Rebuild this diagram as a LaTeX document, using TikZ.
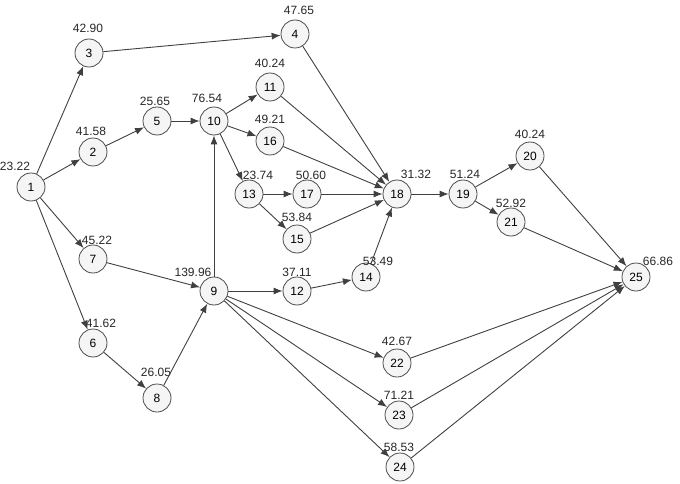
\documentclass[tikz,border=0pt]{standalone}
\usepackage{fontspec}
\setmainfont{Liberation Sans}
\usetikzlibrary{arrows.meta}

\begin{document}
\begin{tikzpicture}[x=1pt,y=-1pt,
  ev/.style={circle,draw=black!70,fill=gray!8,line width=0.8pt,minimum size=28pt,inner sep=0pt,font=\fontsize{12}{13}\selectfont},
  val/.style={font=\fontsize{12}{13}\selectfont,text=black!85,inner sep=0pt},
  act/.style={draw=black!75,line width=0.9pt,-{Latex[length=9pt,width=7pt]}}]
  \useasboundingbox (0,0) rectangle (680,484);

  % Events
  \node[ev] (n1) at (31,187) {1};
  \node[ev] (n2) at (93,152) {2};
  \node[ev] (n3) at (89,53) {3};
  \node[ev] (n4) at (295,34) {4};
  \node[ev] (n5) at (157,121) {5};
  \node[ev] (n6) at (93,343) {6};
  \node[ev] (n7) at (93,259) {7};
  \node[ev] (n8) at (157,398) {8};
  \node[ev] (n9) at (214,291) {9};
  \node[ev] (n10) at (214,121) {10};
  \node[ev] (n11) at (270,87) {11};
  \node[ev] (n12) at (297,291) {12};
  \node[ev] (n13) at (249,194) {13};
  \node[ev] (n14) at (366,277) {14};
  \node[ev] (n15) at (297,239) {15};
  \node[ev] (n16) at (270,141) {16};
  \node[ev] (n17) at (307,194) {17};
  \node[ev] (n18) at (397,194) {18};
  \node[ev] (n19) at (463,194) {19};
  \node[ev] (n20) at (530,156) {20};
  \node[ev] (n21) at (511,222) {21};
  \node[ev] (n22) at (397,363) {22};
  \node[ev] (n23) at (399,415) {23};
  \node[ev] (n24) at (400,467) {24};
  \node[ev] (n25) at (636,277) {25};

  % Values
  \node[val] (v1) at (15,166) {23.22};
  \node[val] (v2) at (91,131) {41.58};
  \node[val] (v3) at (88,28) {42.90};
  \node[val] (v4) at (299,10) {47.65};
  \node[val] (v5) at (155,101) {25.65};
  \node[val] (v6) at (101,323) {41.62};
  \node[val] (v7) at (97,240) {45.22};
  \node[val] (v8) at (156,372) {26.05};
  \node[val] (v9) at (193,272) {139.96};
  \node[val] (v10) at (207,98) {76.54};
  \node[val] (v11) at (270,63) {40.24};
  \node[val] (v12) at (297,272) {37.11};
  \node[val] (v13) at (258,175) {23.74};
  \node[val] (v14) at (378,261) {53.49};
  \node[val] (v15) at (297,217) {53.84};
  \node[val] (v16) at (270,119) {49.21};
  \node[val] (v17) at (311,175) {50.60};
  \node[val] (v18) at (416,174) {31.32};
  \node[val] (v19) at (465,174) {51.24};
  \node[val] (v20) at (530,134) {40.24};
  \node[val] (v21) at (511,203) {52.92};
  \node[val] (v22) at (397,341) {42.67};
  \node[val] (v23) at (399,395) {71.21};
  \node[val] (v24) at (399,447) {58.53};
  \node[val] (v25) at (658,261) {66.86};

  % Activities
  \draw[act] (n1) -- (n3);
  \draw[act] (n1) -- (n2);
  \draw[act] (n1) -- (n7);
  \draw[act] (n1) -- (n6);
  \draw[act] (n3) -- (n4);
  \draw[act] (n2) -- (n5);
  \draw[act] (n5) -- (n10);
  \draw[act] (n10) -- (n11);
  \draw[act] (n10) -- (n16);
  \draw[act] (n10) -- (n13);
  \draw[act] (n13) -- (n17);
  \draw[act] (n13) -- (n15);
  \draw[act] (n4) -- (n18);
  \draw[act] (n11) -- (n18);
  \draw[act] (n16) -- (n18);
  \draw[act] (n17) -- (n18);
  \draw[act] (n15) -- (n18);
  \draw[act] (n14) -- (n18);
  \draw[act] (n18) -- (n19);
  \draw[act] (n19) -- (n20);
  \draw[act] (n19) -- (n21);
  \draw[act] (n20) -- (n25);
  \draw[act] (n21) -- (n25);
  \draw[act] (n7) -- (n9);
  \draw[act] (n6) -- (n8);
  \draw[act] (n8) -- (n9);
  \draw[act] (n9) -- (n10);
  \draw[act] (n9) -- (n12);
  \draw[act] (n12) -- (n14);
  \draw[act] (n9) -- (n22);
  \draw[act] (n9) -- (n23);
  \draw[act] (n9) -- (n24);
  \draw[act] (n22) -- (n25);
  \draw[act] (n23) -- (n25);
  \draw[act] (n24) -- (n25);
\end{tikzpicture}
\end{document}
